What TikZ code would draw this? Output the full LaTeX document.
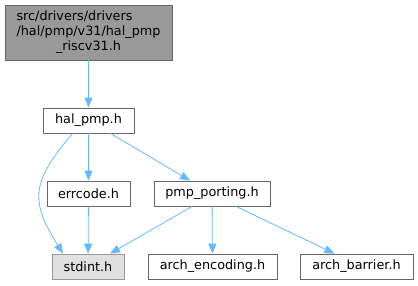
\documentclass[tikz,border=0pt]{standalone}
\usepackage{fontspec}
\setmainfont{DejaVu Sans}
\usepackage{xcolor}
\usepackage{tikz}
\usetikzlibrary{arrows.meta,positioning}
\definecolor{edgeblue}{HTML}{63B8FF}
\definecolor{boxline}{HTML}{666666}
\definecolor{curfill}{HTML}{999999}
\definecolor{sysfill}{HTML}{E0E0E0}
\definecolor{sysline}{HTML}{999999}

\begin{document}
\begin{tikzpicture}[x=1pt,y=-1pt,>={Triangle[length=10pt,width=8pt]},
  font=\fontsize{12.8}{15}\selectfont,
  file/.style={draw=boxline,fill=white,line width=0.8pt,minimum height=25pt,inner sep=0pt},
  curfile/.style={file,fill=curfill,minimum height=55pt},
  sysfile/.style={file,draw=sysline,fill=sysfill},
  dep/.style={->,draw=edgeblue,line width=0.8pt}]
  \useasboundingbox (0,0) rectangle (418,285);
  \node[curfile,minimum width=167pt] (src) at (88.5,32.5)
    {\begin{tabular}{@{}l@{}}src/drivers/drivers\\/hal/pmp/v31/hal\_pmp\\\multicolumn{1}{@{}c@{}}{\_riscv31.h}\end{tabular}};
  \node[file,minimum width=91pt] (halpmp) at (88.5,120.5) {hal\_pmp.h};
  \node[file,minimum width=83pt] (errcode) at (88.5,193.5) {errcode.h};
  \node[file,minimum width=116pt] (porting) at (212,193.5) {pmp\_porting.h};
  \node[sysfile,minimum width=72pt] (stdint) at (88,266.5) {stdint.h};
  \node[file,minimum width=129pt] (archenc) at (212.5,266.5) {arch\_encoding.h};
  \node[file,minimum width=113pt] (archbar) at (356.5,266.5) {arch\_barrier.h};
  \draw[dep] (src) -- (halpmp);
  \draw[dep] ([xshift=-16pt]halpmp.south) to[out=-130,in=122,looseness=1.35] ([xshift=-25pt]stdint.north);
  \draw[dep] (halpmp) -- (errcode);
  \draw[dep] ([xshift=22pt]halpmp.south) -- ([xshift=-22pt]porting.north);
  \draw[dep] (errcode) -- (stdint);
  \draw[dep] ([xshift=-20pt]porting.south) -- ([xshift=22pt]stdint.north);
  \draw[dep] (porting) -- (archenc);
  \draw[dep] ([xshift=24pt]porting.south) -- ([xshift=-22pt]archbar.north);
\end{tikzpicture}
\end{document}
